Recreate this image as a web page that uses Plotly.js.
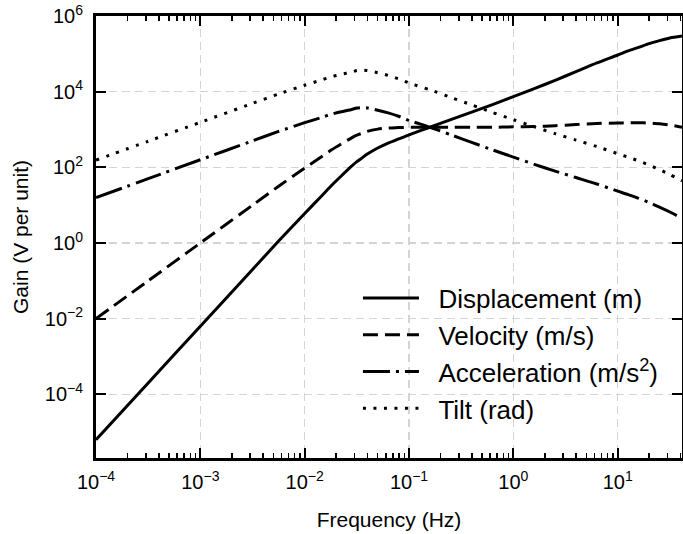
<!DOCTYPE html>
<html>
<head>
<meta charset="utf-8">
<script src="https://cdn.plot.ly/plotly-3.0.1.min.js"></script>
<style>
  html, body { margin: 0; padding: 0; background: #ffffff; }
  #chart { width: 683px; height: 534px; }
</style>
</head>
<body>
<div id="chart"></div>
<script>
const frequencyHz = [1e-4, 3.162e-4, 1e-3, 3.162e-3, 5.623e-3, 1e-2, 1.413e-2, 1.778e-2,
  2.239e-2, 2.818e-2, 3.162e-2, 3.548e-2, 3.981e-2, 5.012e-2, 6.310e-2, 7.943e-2, 0.1,
  0.1585, 0.2512, 0.3981, 0.6310, 1, 1.585, 2.512, 3.981, 6.310, 10, 12.59, 15.85, 19.95,
  25.12, 31.62, 41.3];

// log10 of gain (V per unit)
const displacementLog10 = [-5.2, -3.7, -2.2, -0.7, 0.05, 0.78, 1.21, 1.5, 1.77, 2.03, 2.15,
  2.25, 2.35, 2.51, 2.64, 2.75, 2.86, 3.06, 3.26, 3.46, 3.66, 3.87, 4.08, 4.30, 4.53, 4.76,
  4.97, 5.08, 5.17, 5.27, 5.35, 5.42, 5.47];
const velocityLog10 = [-2.0, -1.0, 0.0, 1.0, 1.5, 1.98, 2.26, 2.45, 2.62, 2.78, 2.85, 2.9,
  2.95, 3.01, 3.04, 3.05, 3.06, 3.06, 3.06, 3.06, 3.06, 3.07, 3.08, 3.10, 3.13, 3.16, 3.17,
  3.18, 3.18, 3.17, 3.15, 3.12, 3.06];
const accelerationLog10 = [1.2, 1.7, 2.2, 2.7, 2.95, 3.18, 3.31, 3.4, 3.47, 3.53, 3.57, 3.58,
  3.57, 3.51, 3.44, 3.35, 3.24, 3.06, 2.86, 2.66, 2.46, 2.27, 2.08, 1.9, 1.73, 1.56, 1.37,
  1.28, 1.18, 1.07, 0.95, 0.82, 0.65];
const tiltLog10 = [2.19, 2.69, 3.19, 3.69, 3.94, 4.17, 4.30, 4.39, 4.46, 4.52, 4.56, 4.57,
  4.56, 4.50, 4.43, 4.34, 4.23, 4.05, 3.85, 3.65, 3.45, 3.26, 3.07, 2.89, 2.72, 2.55, 2.36,
  2.27, 2.17, 2.06, 1.94, 1.81, 1.64];

const seriesNames = ['Displacement (m)', 'Velocity (m/s)', 'Acceleration (m/s<sup>2</sup>)', 'Tilt (rad)'];
const seriesLog10 = [displacementLog10, velocityLog10, accelerationLog10, tiltLog10];
const seriesDash = ['solid', '15px,7px', '27px,6px,3px,6px', '3px,7.5px'];

// Tick labels
const xTickExponents = [-4, -3, -2, -1, 0, 1];
const yTickExponents = [-4, -2, 0, 2, 4, 6];
const powerLabel = e => '10<sup>' + (e < 0 ? '\u2212' + (-e) : String(e)) + '</sup>';

const FONT = 'Liberation Sans, Arial, Helvetica, sans-serif';

const traces = seriesNames.map((name, i) => ({
  type: 'scatter',
  mode: 'lines',
  name: '\u00a0\u00a0' + name,
  x: frequencyHz,
  y: seriesLog10[i].map(v => Math.pow(10, v)),
  line: { color: '#000000', width: 3, dash: seriesDash[i], shape: 'spline', smoothing: 0.6 },
  hoverinfo: 'skip'
}));

// minor tick positions (2..9 within each decade)
const minorX = [];
for (let e = -4; e <= 1; e++) for (let d = 2; d <= 9; d++) minorX.push(d * Math.pow(10, e));

const axisCommon = {
  type: 'log',
  showline: true, linecolor: '#000000', linewidth: 3, mirror: 'allticks',
  ticks: 'inside', tickcolor: '#000000', tickwidth: 2, ticklen: 10,
  showgrid: true, gridcolor: '#d4d4d4', gridwidth: 1.5, griddash: '8px,5px',
  zeroline: false,
  tickfont: { family: FONT, size: 20, color: '#000000' }
};

const layout = {
  width: 683, height: 534,
  margin: { l: 96, r: 1, t: 16, b: 76 },
  paper_bgcolor: '#ffffff', plot_bgcolor: '#ffffff',
  font: { family: FONT, color: '#000000' },
  showlegend: true,
  xaxis: Object.assign({}, axisCommon, {
    range: [-4.0002, 1.616],
    tickmode: 'array',
    tickvals: xTickExponents.map(e => Math.pow(10, e)),
    ticktext: xTickExponents.map(powerLabel),
    minor: { tickmode: 'array', tickvals: minorX, ticks: 'inside', ticklen: 5, tickwidth: 1.5, tickcolor: '#000000', showgrid: false },
    ticklabelstandoff: 4,
    title: { text: 'Frequency (Hz)', font: { family: FONT, size: 21, color: '#000000' }, standoff: 21 }
  }),
  yaxis: Object.assign({}, axisCommon, {
    range: [-5.684, 6.0005],
    tickmode: 'array',
    tickvals: yTickExponents.map(e => Math.pow(10, e)),
    ticktext: yTickExponents.map(powerLabel),
    ticklabelstandoff: 6,
    title: { text: 'Gain (V per unit)', font: { family: FONT, size: 21, color: '#000000' }, standoff: 11 }
  }),
  legend: {
    x: 0.447, y: 0.415, xanchor: 'left', yanchor: 'top',
    bgcolor: 'rgba(0,0,0,0)', borderwidth: 0,
    font: { family: FONT, size: 26, color: '#000000' },
    itemwidth: 56, traceorder: 'normal'
  }
};

Plotly.newPlot('chart', traces, layout, { displayModeBar: false, staticPlot: true });
</script>
</body>
</html>
